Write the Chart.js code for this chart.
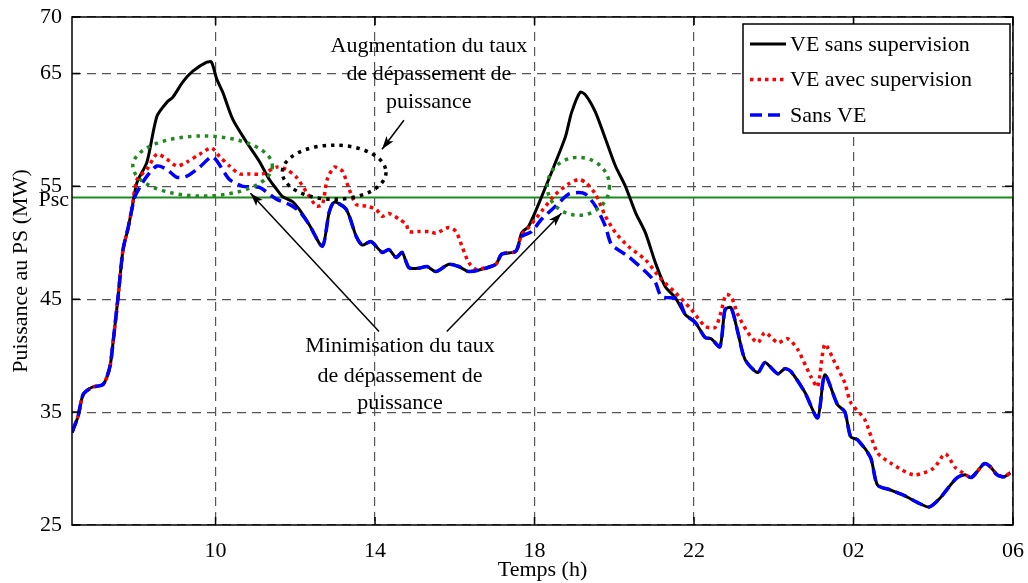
<!DOCTYPE html>
<html>
<head>
<meta charset="utf-8">
<script src="https://cdn.jsdelivr.net/npm/chart.js@4.4.0/dist/chart.umd.min.js"></script>
<style>
    body { margin: 0; background: #fff; }
</style>
</head>
<body>
<canvas id="ChartPuissance" width="1028" height="583"></canvas>
<script>
// temps en heures (6.4 = 06h24, 26 = 02h du lendemain, 30 = 06h)
var heuresSansVE = [6.4, 6.55, 6.68, 6.9, 7.18, 7.35, 7.43, 7.55, 7.68, 7.8, 7.9, 7.98, 8.1, 8.28, 8.53, 8.78, 9.03, 9.28, 9.6, 9.93,
    10.35, 10.68, 11.1, 11.53, 11.85, 12.1, 12.35, 12.68, 12.85, 12.98, 13.28, 13.53, 13.68, 13.9, 14.18, 14.35, 14.53, 14.68, 14.85,
    15.1, 15.3, 15.53, 15.85, 16.1, 16.35, 16.68, 17.03, 17.18, 17.53, 17.68, 17.93, 18.18, 18.53, 18.85, 19.1, 19.28, 19.53, 19.78,
    19.93, 20.35, 20.78, 21.03, 21.18, 21.6, 21.78, 22.03, 22.28, 22.43, 22.65, 22.78, 22.93, 23.1, 23.28, 23.6, 23.78, 24.1, 24.28,
    24.43, 24.78, 25.1, 25.28, 25.6, 25.78, 25.93, 26.1, 26.43, 26.6, 26.93, 27.28, 27.6, 27.9, 28.15, 28.4, 28.6, 28.8, 28.95,
    29.1, 29.28, 29.43, 29.6, 29.78, 29.93];
var sansVE = [33.2, 34.6, 36.55, 37.2, 37.45, 39.0, 41.2, 45.0, 49.4, 51.2, 52.95, 54.1, 54.9, 55.9, 56.8, 56.5, 55.8, 55.9, 56.7, 57.6,
    55.6, 55.0, 54.9, 53.85, 53.4, 52.8, 51.6, 49.7, 52.7, 53.6, 52.95, 50.55, 49.8, 50.1, 49.15, 49.4, 48.7, 49.15, 47.8,
    47.75, 47.9, 47.45, 48.1, 47.9, 47.45, 47.65, 48.1, 49.0, 49.25, 50.55, 51.0, 52.1, 53.25, 54.3, 54.45, 54.3, 53.25, 51.45,
    49.85, 48.8, 47.45, 46.5, 45.25, 45.0, 43.65, 42.95, 41.6, 41.5, 40.8, 44.1, 44.25, 42.05, 39.65, 38.5, 39.4, 38.4, 38.85,
    38.6, 36.75, 34.5, 38.3, 35.65, 35.05, 32.8, 32.55, 30.95, 28.55, 28.1, 27.6, 27.0, 26.6, 27.3, 28.4, 29.2, 29.45, 29.2,
    29.72, 30.43, 30.16, 29.45, 29.27, 29.63];

var heuresSansSup = [6.4, 6.55, 6.68, 6.9, 7.18, 7.35, 7.43, 7.55, 7.68, 7.8, 7.9, 8.03, 8.28, 8.53, 8.78, 8.93, 9.18, 9.43, 9.78, 9.9,
    10.03, 10.18, 10.43, 10.78, 11.1, 11.35, 11.53, 11.68, 11.93, 12.1, 12.35, 12.68, 12.85, 12.98, 13.28, 13.53, 13.68, 13.9, 14.18,
    14.35, 14.53, 14.68, 14.85, 15.1, 15.3, 15.53, 15.85, 16.1, 16.35, 16.68, 17.03, 17.18, 17.53, 17.68, 17.85, 18.18, 18.53, 18.78,
    18.93, 19.15, 19.3, 19.53, 19.78, 20.03, 20.28, 20.53, 20.78, 21.03, 21.28, 21.53, 21.78, 22.03, 22.28, 22.43, 22.65, 22.78,
    22.93, 23.1, 23.28, 23.6, 23.78, 24.1, 24.28, 24.43, 24.78, 25.1, 25.28, 25.6, 25.78, 25.93, 26.1, 26.43, 26.6, 26.93, 27.28,
    27.6, 27.9, 28.15, 28.4, 28.6, 28.8, 28.95, 29.1, 29.28, 29.43, 29.6, 29.78, 29.93];
var sansSupervision = [33.2, 34.6, 36.55, 37.2, 37.45, 39.0, 41.2, 45.0, 49.4, 51.2, 52.95, 55.35, 57.15, 61.2, 62.45, 62.9, 64.25, 65.2, 66.0, 66.0,
    64.5, 63.35, 60.95, 58.9, 57.2, 55.6, 54.75, 54.1, 53.65, 52.95, 51.6, 49.7, 52.7, 53.6, 52.95, 50.55, 49.8, 50.1, 49.15,
    49.4, 48.7, 49.15, 47.8, 47.75, 47.9, 47.45, 48.1, 47.9, 47.45, 47.65, 48.1, 49.0, 49.25, 50.9, 51.45, 54.1, 57.15, 59.45,
    61.55, 63.35, 63.0, 61.55, 59.2, 56.8, 55.0, 52.7, 50.9, 48.25, 46.1, 45.15, 43.65, 42.95, 41.6, 41.5, 40.8, 44.1,
    44.25, 42.05, 39.65, 38.5, 39.4, 38.4, 38.85, 38.6, 36.75, 34.5, 38.3, 35.65, 35.05, 32.8, 32.55, 30.95, 28.55, 28.1, 27.6,
    27.0, 26.6, 27.3, 28.4, 29.2, 29.45, 29.2, 29.72, 30.43, 30.16, 29.45, 29.27, 29.63];

var heuresAvecSup = [6.4, 6.55, 6.68, 6.9, 7.18, 7.35, 7.43, 7.55, 7.68, 7.8, 7.9, 8.03, 8.28, 8.53, 8.78, 9.03, 9.28, 9.6, 9.9, 10.1,
    10.35, 10.6, 10.85, 11.18, 11.53, 11.78, 12.03, 12.28, 12.53, 12.68, 12.8, 12.98, 13.18, 13.35, 13.53, 13.78, 14.03, 14.18, 14.35,
    14.6, 14.78, 14.85, 15.1, 15.35, 15.53, 15.85, 16.03, 16.18, 16.35, 16.53, 16.78, 17.03, 17.18, 17.53, 17.68, 17.85, 18.18, 18.53,
    18.85, 19.1, 19.28, 19.53, 19.78, 20.03, 20.35, 20.78, 21.18, 21.53, 21.93, 22.28, 22.53, 22.68, 22.8, 22.93, 23.1, 23.35, 23.6,
    23.78, 24.1, 24.35, 24.6, 24.93, 25.1, 25.28, 25.53, 25.78, 25.93, 26.28, 26.6, 26.93, 27.5, 28.0, 28.3, 28.55, 28.75, 28.95,
    29.1, 29.28, 29.43, 29.6, 29.78, 29.93];
var avecSupervision = [33.2, 34.6, 36.55, 37.2, 37.45, 39.0, 41.2, 45.0, 49.4, 51.2, 52.95, 55.6, 56.5, 57.85, 57.4, 56.8, 57.15, 57.85, 58.4, 57.65,
    56.8, 56.1, 56.1, 56.1, 56.7, 56.5, 55.8, 54.5, 53.25, 53.4, 55.6, 56.7, 56.35, 54.75, 53.4, 53.25, 52.95, 52.35, 52.6,
    52.1, 51.65, 51.0, 51.0, 51.0, 50.85, 51.35, 51.0, 49.7, 48.25, 47.65, 47.8, 48.1, 49.0, 49.25, 50.75, 51.35, 52.8, 54.3,
    55.2, 55.6, 55.35, 54.3, 52.35, 50.9, 49.7, 48.5, 46.75, 45.6, 44.1, 42.6, 42.5, 43.9, 45.4, 45.25, 43.65, 42.05, 41.15,
    42.05, 41.15, 41.5, 40.55, 38.15, 37.25, 41.0, 39.4, 37.6, 35.85, 34.35, 31.4, 30.5, 29.45, 30.0, 31.3, 30.1, 29.6, 29.2,
    29.72, 30.43, 30.16, 29.45, 29.27, 29.63];

var ticksX = [10, 14, 18, 22, 26, 30];
var ticksY = [25, 35, 45, 55, 65, 70];
var psc = 54;

var police = 'Liberation Serif';
var vert = '#1f8a1f';

// ellipses, fleches et textes en unites du graphe (heures, MW)
var ellipses = [
    { x: 9.675, y: 56.8, rx: 1.75, ry: 2.66, color: vert },
    { x: 12.975, y: 56.25, rx: 1.3, ry: 2.4, color: '#000' },
    { x: 19.1, y: 55.0, rx: 0.78, ry: 2.57, color: vert }
];
var fleches = [
    [14.725, 60.86, 14.175, 58.29],
    [14.1, 42.14, 10.875, 54.38],
    [15.8, 42.14, 18.675, 52.61]
];
var textes = [
    { x: 15.35, y: [67.43, 64.94, 62.46], lignes: ['Augmentation du taux', 'de dépassement de', 'puissance'] },
    { x: 14.625, y: [40.81, 38.15, 35.75], lignes: ['Minimisation du taux', 'de dépassement de', 'puissance'] }
];

function points(xs, ys) {
    return xs.map(function (h, i) { return { x: h, y: ys[i] }; });
}

var decor = {
    id: 'decor',
    afterDraw: function (chart) {
        var ctx = chart.ctx;
        var sx = chart.scales.x, sy = chart.scales.y, a = chart.chartArea;
        var px = function (v) { return sx.getPixelForValue(v); };
        var py = function (v) { return sy.getPixelForValue(v); };
        ctx.save();

        // cadre et graduations interieures
        ctx.setLineDash([]);
        ctx.strokeStyle = '#000';
        ctx.lineWidth = 1.5;
        ctx.strokeRect(a.left, a.top, a.right - a.left, a.bottom - a.top);
        ctx.beginPath();
        ticksX.forEach(function (v) {
            ctx.moveTo(px(v), a.bottom); ctx.lineTo(px(v), a.bottom - 8);
            ctx.moveTo(px(v), a.top); ctx.lineTo(px(v), a.top + 8);
        });
        ticksY.forEach(function (v) {
            ctx.moveTo(a.left, py(v)); ctx.lineTo(a.left + 8, py(v));
            ctx.moveTo(a.right, py(v)); ctx.lineTo(a.right - 8, py(v));
        });
        ctx.stroke();

        // ellipses pointillees
        ellipses.forEach(function (e) {
            var cx = px(e.x), cy = py(e.y);
            ctx.beginPath();
            ctx.setLineDash([3.5, 5]);
            ctx.lineWidth = 3.5;
            ctx.strokeStyle = e.color;
            ctx.ellipse(cx, cy, Math.abs(px(e.x + e.rx) - cx), Math.abs(py(e.y + e.ry) - cy), 0, 0, 2 * Math.PI);
            ctx.stroke();
        });

        // fleches
        ctx.setLineDash([]);
        ctx.strokeStyle = '#000';
        ctx.fillStyle = '#000';
        ctx.lineWidth = 1.5;
        fleches.forEach(function (f) {
            var x1 = px(f[0]), y1 = py(f[1]), x2 = px(f[2]), y2 = py(f[3]);
            var ang = Math.atan2(y2 - y1, x2 - x1);
            ctx.beginPath();
            ctx.moveTo(x1, y1);
            ctx.lineTo(x2, y2);
            ctx.stroke();
            ctx.beginPath();
            ctx.moveTo(x2, y2);
            ctx.lineTo(x2 - 14 * Math.cos(ang - 0.32), y2 - 14 * Math.sin(ang - 0.32));
            ctx.lineTo(x2 - 10 * Math.cos(ang), y2 - 10 * Math.sin(ang));
            ctx.lineTo(x2 - 14 * Math.cos(ang + 0.32), y2 - 14 * Math.sin(ang + 0.32));
            ctx.closePath();
            ctx.fill();
        });

        // textes
        ctx.font = '22px "' + police + '"';
        ctx.textAlign = 'center';
        ctx.textBaseline = 'middle';
        textes.forEach(function (t) {
            t.lignes.forEach(function (l, i) {
                ctx.fillText(l, px(t.x), py(t.y[i]));
            });
        });

        // etiquette Psc
        ctx.textAlign = 'right';
        ctx.fillText('Psc', a.left - 3, py(psc) + 3);

        // legende
        var lx = a.right - 270, ly = a.top + 7, lw = 267, lh = 109;
        ctx.fillStyle = '#fff';
        ctx.fillRect(lx, ly, lw, lh);
        ctx.strokeStyle = '#000';
        ctx.lineWidth = 1.5;
        ctx.strokeRect(lx, ly, lw, lh);
        ctx.textAlign = 'left';
        ctx.fillStyle = '#000';
        chart.data.datasets.filter(function (d) { return d.label; }).forEach(function (d, i) {
            var yy = ly + 20 + i * 35.5;
            ctx.beginPath();
            ctx.setLineDash(d.borderDash || []);
            ctx.strokeStyle = d.borderColor;
            ctx.lineWidth = d.borderWidth;
            ctx.moveTo(lx + 7, yy);
            ctx.lineTo(lx + 43, yy);
            ctx.stroke();
            ctx.fillText(d.label, lx + 47, yy + 1);
        });
        ctx.restore();
    }
};

var policeAxes = { family: police, size: 22 };

function sansMarges(s) {
    s.paddingTop = 0;
    s.paddingBottom = 0;
    s.paddingLeft = 0;
    s.paddingRight = 0;
}

new Chart(document.getElementById('ChartPuissance'), {
    type: 'line',
    data: {
        datasets: [
            {
                label: 'VE sans supervision',
                data: points(heuresSansSup, sansSupervision),
                borderColor: '#000',
                borderWidth: 3,
                order: 3
            },
            {
                label: 'VE avec supervision',
                data: points(heuresAvecSup, avecSupervision),
                borderColor: '#ff0000',
                borderWidth: 3.5,
                borderDash: [3.5, 4],
                order: 2
            },
            {
                label: 'Sans VE',
                data: points(heuresSansVE, sansVE),
                borderColor: '#0000ff',
                borderWidth: 3.5,
                borderDash: [12, 6],
                order: 1
            },
            {
                data: [{ x: 6.4, y: psc }, { x: 30, y: psc }],
                borderColor: vert,
                borderWidth: 2,
                order: 4
            }
        ]
    },
    options: {
        responsive: false,
        animation: false,
        layout: { padding: { top: 17, right: 15, left: 0, bottom: 0 } },
        elements: {
            point: { radius: 0 },
            line: { tension: 0.25, borderCapStyle: 'butt', borderJoinStyle: 'round' }
        },
        plugins: {
            legend: { display: false },
            tooltip: { enabled: false }
        },
        scales: {
            x: {
                type: 'linear',
                min: 6.4,
                max: 30,
                afterBuildTicks: function (s) { s.ticks = ticksX.map(function (v) { return { value: v }; }); },
                afterFit: function (s) { s.height = 58; sansMarges(s); },
                ticks: {
                    callback: function (v) { return String(v % 24).padStart(2, '0'); },
                    font: policeAxes,
                    color: '#000',
                    padding: 13,
                    maxRotation: 0,
                    autoSkip: false
                },
                grid: { color: '#555', lineWidth: 1.2, drawTicks: false },
                border: { display: false, dash: [9, 6] },
                title: { display: true, text: 'Temps (h)', font: policeAxes, color: '#000', padding: { top: 0, bottom: 0 } }
            },
            y: {
                min: 25,
                max: 70,
                afterBuildTicks: function (s) { s.ticks = ticksY.map(function (v) { return { value: v }; }); },
                afterFit: function (s) { s.width = 72; sansMarges(s); },
                ticks: { font: policeAxes, color: '#000', padding: 10 },
                grid: { color: '#555', lineWidth: 1.2, drawTicks: false },
                border: { display: false, dash: [9, 6] },
                title: { display: true, text: 'Puissance au PS (MW)', font: policeAxes, color: '#000', padding: { top: 8, bottom: 0 } }
            }
        }
    },
    plugins: [decor]
});
</script>
</body>
</html>
